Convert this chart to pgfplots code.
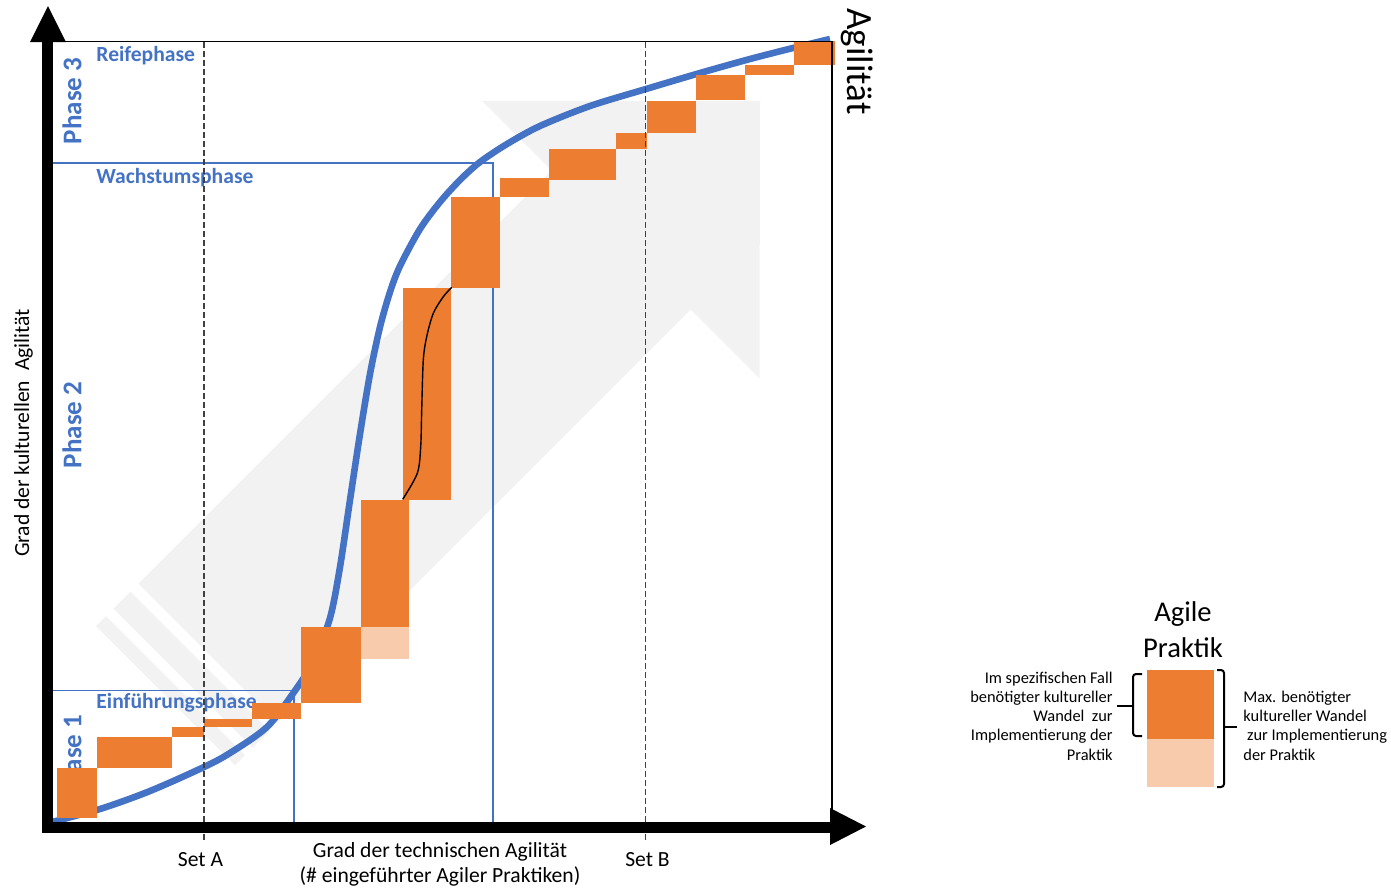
\documentclass[border=0pt]{standalone}
\usepackage{fontspec}
\setmainfont{Carlito}
\usepackage{pgfplots}
\pgfplotsset{compat=1.18}

\definecolor{agblue}{HTML}{4472C4}
\definecolor{agorange}{HTML}{ED7D31}
\definecolor{aglight}{HTML}{F8CBAD}
\definecolor{arrowgray}{HTML}{F2F2F2}

\tikzset{
  prak/.style={fill=agorange, draw=none},
  phaseline/.style={agblue, line width=0.7pt},
  setline/.style={black!75, line width=0.6pt, dash pattern=on 3pt off 1.5pt},
  lbl/.style={inner sep=0pt, font=\fontsize{10.8}{13}\selectfont},
  phlbl/.style={inner sep=0pt, text=agblue, font=\bfseries\fontsize{10.8}{13}\selectfont},
  phnum/.style={inner sep=0pt, rotate=90, text=agblue, font=\bfseries\fontsize{13.5}{15}\selectfont},
  small/.style={inner sep=0pt, font=\fontsize{8.2}{9.7}\selectfont},
}

\begin{document}
\begin{tikzpicture}
\begin{axis}[
  scale only axis, width=695.5pt, height=444.5pt,
  xmin=0, xmax=1391, ymin=0, ymax=889, y dir=reverse,
  hide axis, clip=false,
]
\path (rel axis cs:0,0) rectangle (rel axis cs:1,1);

% grey striped arrow in the background
\addplot[fill=arrowgray, draw=none] coordinates
  {(138.5,583.5) (551.5,170.5) (482,101) (760,101) (759.5,378.5) (690.5,309.5) (277.5,722.5)};
\addplot[fill=arrowgray, draw=none] coordinates
  {(130.5,591.5) (113.5,608.5) (252.5,747.5) (269.5,730.5)};
\addplot[fill=arrowgray, draw=none] coordinates
  {(106,616) (96,626) (235,765) (245,755)};

% phase boundaries
\addplot[phaseline] coordinates {(53,163) (493,163) (493,822)};
\addplot[phaseline] coordinates {(53,690.5) (294,690.5) (294,822)};

\node[phlbl, anchor=base west] at (axis cs:96,61) {Reifephase};
\node[phlbl, anchor=base west] at (axis cs:96,183) {Wachstumsphase};
\node[phlbl, anchor=base west] at (axis cs:96,708) {Einführungsphase};
\node[phnum] at (axis cs:72,101) {Phase 3};
\node[phnum] at (axis cs:72,425) {Phase 2};
\node[phnum] at (axis cs:72,758) {Phase 1};

% culture/technique curve
\addplot[agblue, line width=3.3pt, smooth] coordinates {
  (48,823) (100,809) (150,791) (204,767) (230,753) (267,727) (294,692)
  (313,662) (330,618) (340,567) (350,500) (360,434) (370,374) (380,327)
  (390,292) (400,266) (420,229) (440,202) (460,180) (480,162) (507,144)
  (540,126) (590,106) (646,89) (700,73) (750,59) (793,48) (830,39)};

% agile practices
\addplot[prak] coordinates {(57,768) (97,768) (97,818) (57,818)};
\addplot[prak] coordinates {(97,737) (172,737) (172,768) (97,768)};
\addplot[prak] coordinates {(172,727) (204,727) (204,737) (172,737)};
\addplot[prak] coordinates {(204,719) (252,719) (252,727) (204,727)};
\addplot[prak] coordinates {(252,703) (301,703) (301,719) (252,719)};
\addplot[prak] coordinates {(301,627) (361,627) (361,703) (301,703)};
\addplot[prak] coordinates {(361,500) (409,500) (409,627) (361,627)};
\addplot[fill=aglight, draw=none] coordinates {(361,627) (409,627) (409,659) (361,659)};
\addplot[prak] coordinates {(403,288) (451,288) (451,500) (403,500)};
\addplot[prak] coordinates {(451,197) (500,197) (500,288) (451,288)};
\addplot[prak] coordinates {(500,178) (549,178) (549,197) (500,197)};
\addplot[prak] coordinates {(549,149) (616,149) (616,180) (549,180)};
\addplot[prak] coordinates {(616,133) (647,133) (647,149) (616,149)};
\addplot[prak] coordinates {(647,101) (696,101) (696,133) (647,133)};
\addplot[prak] coordinates {(696,75) (745,75) (745,100) (696,100)};
\addplot[prak] coordinates {(745,65) (794,65) (794,75) (745,75)};
\addplot[prak] coordinates {(794,41) (835,41) (835,65) (794,65)};

\addplot[black, line width=0.7pt, smooth] coordinates {
  (402.7,499.3) (417.3,473.3) (420.7,446.7) (421.7,410) (423.3,360)
  (426.7,336.7) (433.3,313.3) (443.3,296.7) (451.7,287.3)};

% sets
\addplot[setline] coordinates {(204,42) (204,840)};
\addplot[setline] coordinates {(645.5,42) (645.5,840)};

% frame and axes
\addplot[black, line width=0.65pt] coordinates {(53,41.5) (832,41.5) (832,822)};
\addplot[black, line width=5.5pt, line join=miter] coordinates {(47.5,42) (47.5,827.5) (831,827.5)};
\addplot[fill=black, draw=none] coordinates {(30,42) (66,42) (48,6)};
\addplot[fill=black, draw=none] coordinates {(830,808) (830,845) (866,826.5)};

\node[lbl, anchor=base] at (axis cs:200.5,866) {Set A};
\node[lbl, anchor=base] at (axis cs:647.5,866) {Set B};
\node[lbl, anchor=base] at (axis cs:440,857) {Grad der technischen Agilität};
\node[lbl, anchor=base] at (axis cs:440,882) {(\# eingeführter Agiler Praktiken)};
\node[lbl, anchor=base, rotate=90] at (axis cs:29,433) {Grad der kulturellen~ Agilität};
\node[inner sep=0pt, anchor=base, rotate=-90, font=\fontsize{18.5}{20}\selectfont]
  at (axis cs:847,61.5) {Agilität};

% legend
\node[inner sep=0pt, anchor=base, font=\fontsize{14.3}{17}\selectfont] at (axis cs:1183,621.5) {Agile};
\node[inner sep=0pt, anchor=base, font=\fontsize{14.3}{17}\selectfont] at (axis cs:1183,657) {Praktik};
\addplot[prak] coordinates {(1147,670) (1214,670) (1214,739) (1147,739)};
\addplot[fill=aglight, draw=none] coordinates {(1147,739) (1214,739) (1214,787) (1147,787)};
\addplot[black, line width=1pt, rounded corners=1.5pt] coordinates {(1142,674) (1133,674) (1133,736) (1142,736)};
\addplot[black, line width=1pt] coordinates {(1117,706) (1133,706)};
\addplot[black, line width=1pt, rounded corners=1.5pt] coordinates {(1217,670) (1224,670) (1224,787) (1217,787)};
\addplot[black, line width=1pt] coordinates {(1224,727) (1237,727)};

\node[small, anchor=base east] at (axis cs:1113,683) {Im spezifischen Fall};
\node[small, anchor=base east] at (axis cs:1113,702.5) {benötigter kultureller};
\node[small, anchor=base east] at (axis cs:1113,721.5) {Wandel~ zur};
\node[small, anchor=base east] at (axis cs:1113,740.5) {Implementierung der};
\node[small, anchor=base east] at (axis cs:1113,760) {Praktik};
\node[small, anchor=base west] at (axis cs:1243,702.5) {Max. benötigter};
\node[small, anchor=base west] at (axis cs:1243,721.5) {kultureller Wandel};
\node[small, anchor=base west] at (axis cs:1243,740.5) {\ zur Implementierung};
\node[small, anchor=base west] at (axis cs:1243,760) {der Praktik};
\end{axis}
\end{tikzpicture}
\end{document}
